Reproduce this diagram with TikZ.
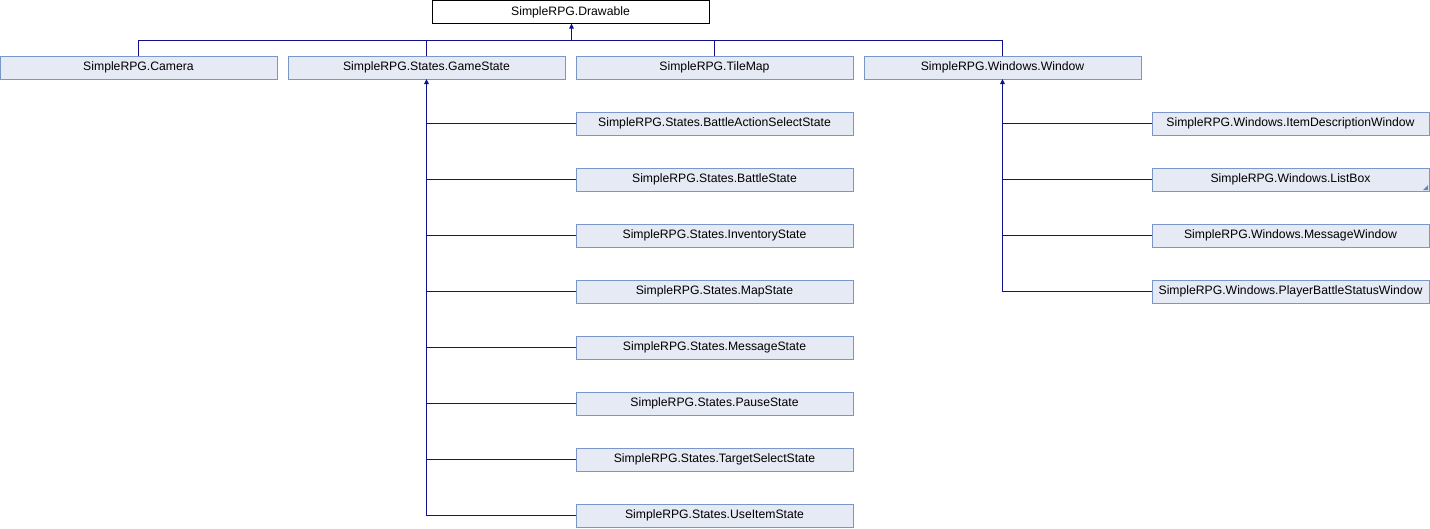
\documentclass[tikz,border=0pt]{standalone}
\usepackage{fontspec}
\setmainfont{Liberation Sans}
\usetikzlibrary{arrows.meta}
\definecolor{boxfill}{HTML}{E6EAF4}
\definecolor{boxline}{HTML}{7B96CB}
\definecolor{edgeblue}{HTML}{10108A}
\definecolor{moremark}{HTML}{6A84B8}
\begin{document}
\begin{tikzpicture}[x=1pt,y=-1pt,
  cls/.style={rectangle,draw=boxline,fill=boxfill,line width=1pt,
    minimum width=277pt,minimum height=23pt,inner sep=0pt,outer sep=0pt,
    font=\fontsize{12.2}{14}\selectfont},
  root/.style={cls,draw=black,fill=white},
  edge/.style={draw=edgeblue,line width=1pt},
  inherit/.style={edge,-{Triangle[length=5pt,width=4.5pt]}}]
\useasboundingbox (0,0) rectangle (1430,528);

% base class
\node[root] (drawable) at (570.5,12) {SimpleRPG.Drawable};

% direct subclasses
\node[cls] (camera) at (138.5,67.5) {SimpleRPG.Camera};
\node[cls] (gamestate) at (426.5,67.5) {SimpleRPG.States.GameState};
\node[cls] (tilemap) at (714.5,67.5) {SimpleRPG.TileMap};
\node[cls] (window) at (1002.5,67.5) {SimpleRPG.Windows.Window};

% game states
\node[cls] (battleaction) at (714.5,123.5) {SimpleRPG.States.BattleActionSelectState};
\node[cls] (battle) at (714.5,179.5) {SimpleRPG.States.BattleState};
\node[cls] (inventory) at (714.5,235.5) {SimpleRPG.States.InventoryState};
\node[cls] (map) at (714.5,291.5) {SimpleRPG.States.MapState};
\node[cls] (message) at (714.5,347.5) {SimpleRPG.States.MessageState};
\node[cls] (pause) at (714.5,403.5) {SimpleRPG.States.PauseState};
\node[cls] (target) at (714.5,459.5) {SimpleRPG.States.TargetSelectState};
\node[cls] (useitem) at (714.5,515.5) {SimpleRPG.States.UseItemState};

% windows
\node[cls] (itemdesc) at (1290.5,123.5) {SimpleRPG.Windows.ItemDescriptionWindow};
\node[cls] (listbox) at (1290.5,179.5) {SimpleRPG.Windows.ListBox};
\node[cls] (msgwin) at (1290.5,235.5) {SimpleRPG.Windows.MessageWindow};
\node[cls] (pbswin) at (1290.5,291.5) {SimpleRPG.Windows.PlayerBattleStatusWindow};

% marker for a class with further subclasses
\fill[moremark] ([shift={(-1,-1)}]listbox.south east) -- ++(-5,0) -- ++(5,-5) -- cycle;

% inheritance from Drawable
\coordinate (bus) at (0,40);
\draw[edge] (camera.north) -- (camera.north |- bus) -- (window.north |- bus) -- (window.north);
\draw[edge] (gamestate.north) -- (gamestate.north |- bus);
\draw[edge] (tilemap.north) -- (tilemap.north |- bus);
\draw[inherit] ([xshift=1pt]drawable.south |- bus) -- ([xshift=1pt]drawable.south);

% inheritance from GameState
\draw[inherit] (useitem.west) -| (gamestate.south);
\foreach \n in {battleaction,battle,inventory,map,message,pause,target}
  \draw[edge] (\n.west) -- (\n.west -| gamestate.south);

% inheritance from Window
\draw[inherit] (pbswin.west) -| (window.south);
\foreach \n in {itemdesc,listbox,msgwin}
  \draw[edge] (\n.west) -- (\n.west -| window.south);
\end{tikzpicture}
\end{document}
